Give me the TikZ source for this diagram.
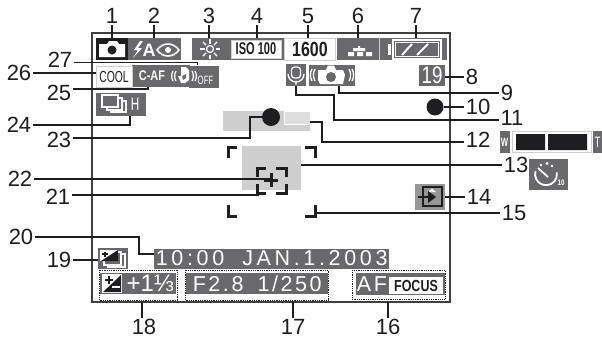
\documentclass[tikz,border=0pt]{standalone}
\usepackage{fontspec}
\setmainfont{Liberation Sans}
\newfontfamily\narrowfont[FakeStretch=0.78]{Liberation Sans}
\newfontfamily\slimfont[FakeStretch=0.65]{Liberation Sans}
\newfontfamily\lcdfont[LetterSpace=12]{Liberation Sans}
\newfontfamily\clockfont[LetterSpace=17]{Liberation Sans}
\definecolor{ink}{HTML}{1E1E20}
\definecolor{lcdgray}{HTML}{69696B}
\definecolor{softgray}{HTML}{CFCFD0}
\begin{document}
\begin{tikzpicture}[x=1pt,y=-1pt,
  num/.style={font=\fontsize{22}{24}\selectfont,text=ink,inner sep=1.5pt},
  lead/.style={draw=ink,line width=1.5pt},
  thicklead/.style={draw=ink,line width=2.6pt},
  panel/.style={fill=lcdgray,inner sep=0pt,text=white},
  whitebox/.style={fill=white,draw=softgray,line width=.6pt,inner sep=0pt,text=ink},
  dotbox/.style={draw=ink,line width=.8pt,densely dotted},
  afmark/.style={draw=ink,line width=3pt},
  icon/.style={draw=white,line width=1.3pt},
]
\useasboundingbox (0,0) rectangle (602,338);

% screen frame
\draw[draw=ink!85,line width=1.6pt] (92,33) rectangle (450,302);

% top row
\node[fill=ink,minimum width=32pt,minimum height=22pt,inner sep=0pt] (mode) at (112,49) {};
\node[panel,minimum width=53pt,minimum height=22pt] (flash) at (154.5,49) {};
\node[panel,minimum width=38pt,minimum height=22pt] (wb) at (211,49) {};
\node[panel,minimum width=54pt,minimum height=22pt] (isopanel) at (257,49) {};
\node[whitebox,minimum width=50pt,minimum height=18pt,font=\slimfont\bfseries\fontsize{17}{17}\selectfont] (iso) at (256,49) {ISO 100};
\node[whitebox,minimum width=51pt,minimum height=22pt,font=\narrowfont\bfseries\fontsize{20.5}{20.5}\selectfont] (speed) at (310,49) {1600};
\node[panel,minimum width=43pt,minimum height=22pt] (quality) at (358,49) {};
\node[panel,minimum width=68pt,minimum height=22pt] (battery) at (413,49) {};
\draw[draw=softgray,line width=.5pt] (379,38) -- (379,60);

% mode icon
\fill[white] (99,44) -- (107,44) -- (109,41) -- (117,41) -- (119,44) -- (125,44) -- (125,57) -- (99,57) -- cycle;
\fill[ink] (112,50) circle (4.5);
% flash icon
\fill[white] (140,41) -- (134,50) -- (138,50) -- (133,58) -- (142,48) -- (138,48) -- (143,41) -- cycle;
\node[text=white,inner sep=0pt,font=\bfseries\fontsize{18}{18}\selectfont] (flasha) at (149,50) {A};
\draw[icon,line width=1.6pt] (157,50) .. controls (163,42) and (173,42) .. (179,50) .. controls (173,58) and (163,58) .. (157,50) -- cycle;
\fill[white] (168,50) circle (3);
% white balance icon
\draw[icon] (210,49) circle (3.5);
\foreach \a in {0,45,...,315} \draw[icon] (210,49) ++(\a:5.5) -- ++(\a:4.5);
% quality icon
\fill[white] (353,48) rectangle (365,51) (358,46) rectangle (360,48);
\fill[white] (348,52) rectangle (354,56) (357,52) rectangle (363,56) (366,52) rectangle (372,56);
% battery icon
\draw[icon] (393,40) rectangle (441,59);
\draw[draw=white,line width=.7pt] (395.5,42.5) rectangle (438.5,56.5);
\fill[white] (388,44) rectangle (391,55);
\draw[icon,line width=2pt] (402,55) -- (412,44) (417,55) -- (428,44);

% second row
\node[panel,minimum width=58pt,minimum height=22pt] (caf) at (161,76) {};
\node[panel,minimum width=30pt,minimum height=22pt] (off) at (204,76.5) {};
\node[whitebox,minimum width=36pt,minimum height=21pt,font=\slimfont\fontsize{16}{16}\selectfont] (cool) at (114,76.5) {COOL};
\node[text=white,inner sep=0pt,font=\narrowfont\bfseries\fontsize{14}{14}\selectfont] (caftext) at (152,76) {C-AF};
\node[text=white,inner sep=0pt,font=\slimfont\fontsize{12}{12}\selectfont] (offtext) at (205.5,80) {OFF};
\draw[icon,line width=1.2pt] (173,81) arc (150:210:10) (176,81) arc (150:210:10) (192,81) arc (30:-30:10) (195,81) arc (30:-30:10);
\fill[white] (178,76) -- (181,76) -- (181,67) -- (186,67) -- (189,70) -- (189,80) -- (185,83) -- (181,83) -- cycle;
\fill[lcdgray] (182,76) -- (186,74) -- (186,78) -- (183,80) -- cycle;

\node[panel,minimum width=50pt,minimum height=23pt] (burst) at (121,104) {};
\draw[icon,fill=lcdgray] (111,101) rectangle (126,112);
\draw[icon,fill=lcdgray] (107,98) rectangle (122,110);
\draw[icon,fill=lcdgray] (102,95) rectangle (118,107);
\node[text=white,inner sep=0pt,font=\slimfont\fontsize{18}{18}\selectfont] (burstH) at (135,104) {H};

\node[panel,minimum width=46pt,minimum height=21pt] (shake) at (332,75.5) {};
\fill[white] (318,70) -- (326,70) -- (328,65.5) -- (334,65.5) -- (336,70) -- (343,70) -- (345,75) -- (343,84) -- (320,84) -- (318,80) -- cycle;
\fill[lcdgray] (331,77) circle (5);
\draw[icon] (315,81) arc (150:210:12) (312,81) arc (150:210:12) (349,81) arc (30:-30:12) (352,81) arc (30:-30:12);
\node[panel,minimum width=20pt,minimum height=22pt] (mic) at (296,75) {};
\draw[icon,rounded corners=3pt] (291.5,67) rectangle (300.5,78);
\draw[icon] (288,74) arc (180:0:8) (296,82) -- (296,85);

\node[panel,minimum width=26pt,minimum height=21pt,font=\narrowfont\fontsize{24}{24}\selectfont] (count) at (432,75.5) {19};

% focus area
\fill[softgray] (223,111) rectangle (310,131);
\draw[draw=white,line width=.4pt,fill=softgray!70] (284,111) rectangle (310,124);
\node[fill=ink,circle,minimum size=18pt,inner sep=0pt] (dot) at (271,117) {};
\node[fill=softgray,minimum width=59pt,minimum height=44pt,inner sep=0pt] (spot) at (271.5,168) {};
\node[fill=ink,circle,minimum size=17pt,inner sep=0pt] (rec) at (435,107) {};

\draw[afmark] (228,158) -- (228,147) -- (237,147);
\draw[afmark] (305,147) -- (315,147) -- (315,158);
\draw[afmark] (228,205) -- (228,216) -- (237,216);
\draw[afmark] (305,216) -- (315,216) -- (315,205);
\draw[afmark] (257,177) -- (257,168) -- (266,168);
\draw[afmark] (276,168) -- (286,168) -- (286,177);
\draw[afmark] (257,184) -- (257,193) -- (266,193);
\draw[afmark] (276,193) -- (286,193) -- (286,184);
\node[inner sep=0pt,minimum size=14pt] (cross) at (271,180) {};
\draw[afmark] (cross.north) -- (cross.south) (cross.west) -- (cross.east);

% zoom bar and timer
\node[panel,minimum width=10pt,minimum height=22pt,font=\slimfont\bfseries\fontsize{12}{12}\selectfont] (zoomw) at (504.5,142) {W};
\node[panel,minimum width=9pt,minimum height=22pt,font=\slimfont\fontsize{15}{15}\selectfont] (zoomt) at (597.5,142) {T};
\draw[draw=softgray,line width=1pt] (512,131.5) rectangle (591,152.5);
\fill[ink] (516,134) rectangle (545,150) (548,134) rectangle (587,150);
\node[panel,minimum width=39pt,minimum height=31pt] (timer) at (548.5,174.5) {};
\draw[icon,line width=1.8pt] (535.5,171) arc (197:-10:11);
\fill[white] (547,163.5) circle (1.7) (552,166) circle (1.3) (541,165) circle (1.3);
\draw[icon,line width=1.8pt] (538,168) -- (548,177);
\node[text=white,inner sep=0pt,font=\narrowfont\bfseries\fontsize{8}{8}\selectfont] (timerten) at (561,183) {10};

% card icon
\node[fill=lcdgray!70,minimum width=30pt,minimum height=26pt,inner sep=0pt] (card) at (430,197) {};
\draw[draw=ink,line width=1.8pt] (423,187) rectangle (442,206);
\fill[white] (432,188.5) -- (436,192) -- (428,192) -- cycle;
\draw[draw=ink,line width=2.6pt] (418,197) -- (428,197);
\fill[ink] (428,191) -- (436,197) -- (428,203) -- cycle;

% bottom rows
\node[panel,minimum width=235pt,minimum height=20pt,anchor=west,font=\clockfont\fontsize{21.5}{21.5}\selectfont] (clock) at (154,258.5) {10:00\hspace{18pt}JAN.1.2003};
\node[panel,minimum width=30pt,minimum height=21pt] (review) at (113,258.5) {};
\draw[icon,fill=lcdgray] (108,254) rectangle (125,267);
\draw[icon,fill=lcdgray] (104,252) rectangle (121,265);
\fill[white] (100,250) rectangle (118,261);
\fill[ink] (118,250) -- (118,261) -- (101,261) -- cycle;
\draw[draw=ink,line width=1.2pt] (102,254) -- (108,254) (105,251.5) -- (105,256.5);

\draw[dotbox] (99,270) rectangle (177,300);
\draw[dotbox] (185,270) rectangle (328,300);
\draw[dotbox] (352,270) rectangle (445,299);
\node[panel,minimum width=76pt,minimum height=21pt,anchor=west,font=\fontsize{24}{24}\selectfont] (expo) at (100,283.5) {\hspace{24pt}+1⅓\hfill};
\fill[white] (102,274) rectangle (122,293);
\fill[ink] (121,275) -- (121,292) -- (103,292) -- cycle;
\draw[draw=ink,line width=1.6pt] (105,280) -- (113,280) (109,276) -- (109,284);
\draw[draw=white,line width=1.6pt] (112,287) -- (120,287);
\node[panel,minimum width=142pt,minimum height=21pt,anchor=west,font=\lcdfont\fontsize{21.5}{21.5}\selectfont] (aperture) at (186,283.5) {F2.8\hspace{14pt}1/250};
\node[panel,minimum width=89pt,minimum height=22pt,anchor=west] (afbox) at (356,284) {};
\node[text=white,inner sep=0pt,font=\lcdfont\fontsize{21.5}{21.5}\selectfont] (aftext) at (372,284) {AF};
\node[whitebox,draw=none,minimum width=54pt,minimum height=17pt,font=\narrowfont\bfseries\fontsize{16}{16}\selectfont] (focus) at (416,285.5) {FOCUS};

% numbers
\node[num] (n1) at (112,16) {1};
\node[num] (n2) at (154,16) {2};
\node[num] (n3) at (209,16) {3};
\node[num] (n4) at (257,16) {4};
\node[num] (n5) at (308,16) {5};
\node[num] (n6) at (358,16) {6};
\node[num] (n7) at (416,16) {7};
\node[num] (n8) at (472,77) {8};
\node[num] (n9) at (507,93) {9};
\node[num] (n10) at (478,107) {10};
\node[num] (n11) at (512,118) {11};
\node[num] (n12) at (478,140) {12};
\node[num] (n13) at (516,165) {13};
\node[num] (n14) at (479,197) {14};
\node[num] (n15) at (514,213) {15};
\node[num] (n16) at (388,327) {16};
\node[num] (n17) at (293,327) {17};
\node[num] (n18) at (144,327) {18};
\node[num] (n19) at (59,260) {19};
\node[num] (n20) at (21,237) {20};
\node[num] (n21) at (58,197) {21};
\node[num] (n22) at (20,179) {22};
\node[num] (n23) at (59,140) {23};
\node[num] (n24) at (19,125) {24};
\node[num] (n25) at (59,93) {25};
\node[num] (n26) at (19,73) {26};
\node[num] (n27) at (60,60) {27};

\coordinate (b9) at (339,93);
\coordinate (b11a) at (296,95);
\coordinate (b11b) at (334,95);
\coordinate (b11c) at (334,120);
\coordinate (b12a) at (322,122);
\coordinate (b12b) at (322,142);
\coordinate (b20a) at (139,237);
\coordinate (b20b) at (139,254);
\coordinate (b23a) at (250,138);
\coordinate (b23b) at (250,117);
\coordinate (b27) at (197,62);
\coordinate (b25) at (148,89);
\coordinate (b24) at (130,125);
\coordinate (b21) at (258,195);

% connectors
\draw[lead] (n1) -- (mode);
\draw[lead] (n2) -- (n2 |- flash.north);
\draw[lead] (n3) -- (n3 |- wb.north);
\draw[lead] (n4) -- (n4 |- isopanel.north);
\draw[lead] (n5) -- (n5 |- speed.north);
\draw[lead] (n6) -- (quality);
\draw[lead] (n7) -- (n7 |- battery.north);
\draw[lead] (n8.west) -- (count.east |- n8.west);
\draw[lead] (n9) -- (b9) -- (b9 |- shake.south);
\draw[lead] (n10) -- (rec);
\draw[lead] (n11.west |- b11c) -- (b11c) -- (b11b) -- (b11a) -- (b11a |- mic.south);
\draw[lead] (n12.west |- b12b) -- (b12b) -- (b12a) -- (310,122);
\draw[lead] (n13) -- (spot.east |- n13);
\draw[lead] (n14.west) -- (card.east |- n14.west);
\draw[lead] (n15) -- (316,213);
\draw[lead] (n16) -- (n16 |- 0,302);
\draw[lead] (n17) -- (n17 |- 0,302);
\draw[lead] (n18.north -| 142,0) -- (142,302);
\draw[lead] (n19) -- (review.west |- n19);
\draw[thicklead] (n20) -- (b20a) -- (b20b) -- (clock.west |- b20b);
\draw[lead] (n21.east |- b21) -- (b21) -- (258,190);
\draw[lead] (n22) -- (cross.center |- n22);
\draw[lead] (n23.east |- b23a) -- (b23a) -- (b23b) -- (dot.west |- b23b);
\draw[lead] (n24) -- (b24) -- (b24 |- burst.south);
\draw[lead] (n25.east |- b25) -- (b25) -- (b25 |- caf.south);
\draw[thicklead] (n26) -- (cool.west |- n26);
\draw[lead,line width=1pt] (n27.east |- b27) -- (b27) -- (b27 |- off.north);
\end{tikzpicture}
\end{document}
